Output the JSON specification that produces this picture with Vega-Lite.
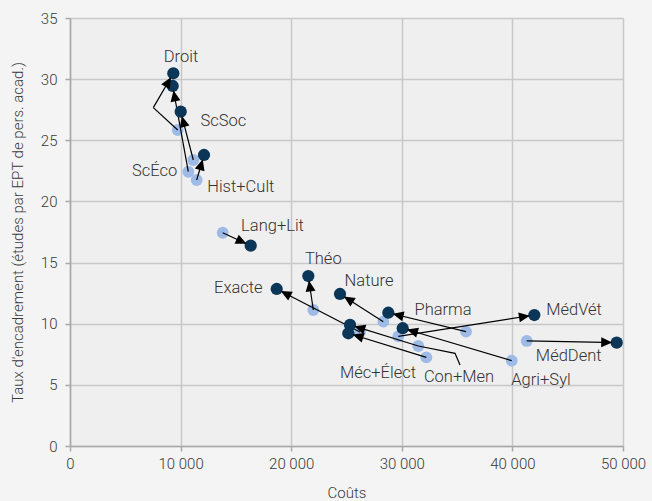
{
  "$schema": "https://vega.github.io/schema/vega-lite/v6.json",
  "width": 553,
  "height": 428,
  "autosize": {"type": "none"},
  "padding": {"left": 70, "top": 18, "right": 29, "bottom": 55},
  "background": "#f4f4f4",
  "config": {
    "view": {"fill": "#efefef", "stroke": null},
    "font": "Roboto",
    "axis": {
      "grid": true,
      "gridColor": "#c8c8c8",
      "gridWidth": 1.5,
      "domainColor": "#a8a8a8",
      "domainWidth": 1.5,
      "tickColor": "#a8a8a8",
      "tickWidth": 1.5,
      "tickSize": 5,
      "labelFont": "Roboto",
      "labelFontSize": 15,
      "labelFontWeight": 300,
      "labelColor": "#3a3a3a",
      "labelFlush": false,
      "labelOverlap": false,
      "titleFont": "Roboto",
      "titleFontSize": 15,
      "titleFontWeight": 300,
      "titleColor": "#3a3a3a"
    }
  },
  "datasets": {
    "programs": [
      {"p": "Droit", "c0": 9738, "t0": 25.84, "c1": 9341, "t1": 30.48, "bx": 7532, "by": 27.67, "lx": 10036, "ly": 31.85},
      {"p": "ScÉco", "c0": 10697, "t0": 22.43, "c1": 9286, "t1": 29.44, "lx": 7659, "ly": 22.45},
      {"p": "ScSoc", "c0": 11149, "t0": 23.39, "c1": 10010, "t1": 27.34, "lx": 13862, "ly": 26.58},
      {"p": "Hist+Cult", "c0": 11456, "t0": 21.75, "c1": 12116, "t1": 23.8, "lx": 15444, "ly": 21.18},
      {"p": "Lang+Lit", "c0": 13807, "t0": 17.44, "c1": 16339, "t1": 16.38, "lx": 18310, "ly": 17.99},
      {"p": "Théo", "c0": 22000, "t0": 11.12, "c1": 21548, "t1": 13.9, "lx": 22900, "ly": 15.29},
      {"p": "Exacte", "c0": 26222, "t0": 9.32, "c1": 18690, "t1": 12.84, "lx": 15218, "ly": 12.9},
      {"p": "Nature", "c0": 28329, "t0": 10.17, "c1": 24413, "t1": 12.43, "lx": 27036, "ly": 13.49},
      {"p": "Pharma", "c0": 35806, "t0": 9.35, "c1": 28781, "t1": 10.9, "lx": 33727, "ly": 11.12},
      {"p": "Agri+Syl", "c0": 39939, "t0": 6.98, "c1": 30083, "t1": 9.63, "lx": 42587, "ly": 5.42},
      {"p": "MédVét", "c0": 29685, "t0": 8.97, "c1": 41983, "t1": 10.71, "lx": 45573, "ly": 11.12},
      {"p": "Con+Men", "c0": 31494, "t0": 8.18, "c1": 25318, "t1": 9.9, "lx": 35174, "ly": 5.64},
      {"p": "Méc+Élect", "c0": 32217, "t0": 7.25, "c1": 25165, "t1": 9.22, "lx": 27849, "ly": 5.97},
      {"p": "MédDent", "c0": 41295, "t0": 8.59, "c1": 49432, "t1": 8.45, "lx": 45090, "ly": 7.36}
    ],
    "leader": [
      {"g": "Con+Men", "o": 1, "x": 31494, "y": 8.18},
      {"g": "Con+Men", "o": 2, "x": 34812, "y": 7.58},
      {"g": "Con+Men", "o": 3, "x": 35264, "y": 6.62}
    ]
  },
  "layer": [
    {
      "data": {"name": "programs"},
      "mark": {"type": "circle", "size": 140, "opacity": 1, "color": "#9dbbe6"},
      "encoding": {
        "x": {
          "field": "c0", "type": "quantitative",
          "scale": {"domain": [0, 50000], "nice": false, "zero": true},
          "axis": {
            "title": "Coûts",
            "values": [0, 10000, 20000, 30000, 40000, 50000],
            "labelExpr": "replace(format(datum.value, ','), ',', ' ')",
            "labelPadding": 5,
            "titlePadding": 14
          }
        },
        "y": {
          "field": "t0", "type": "quantitative",
          "scale": {"domain": [0, 35], "nice": false},
          "axis": {
            "title": "Taux d'encadrement (études par EPT de pers. acad.)",
            "values": [0, 5, 10, 15, 20, 25, 30, 35],
            "labelPadding": 8,
            "titlePadding": 15
          }
        }
      }
    },
    {
      "data": {"name": "leader"},
      "mark": {"type": "line", "color": "#000000", "strokeWidth": 1.2},
      "encoding": {
        "x": {"field": "x", "type": "quantitative"},
        "y": {"field": "y", "type": "quantitative"},
        "detail": {"field": "g"},
        "order": {"field": "o", "type": "quantitative"}
      }
    },
    {
      "data": {"name": "programs"},
      "transform": [{"filter": "isValid(datum.bx)"}],
      "mark": {"type": "rule", "color": "#000000", "strokeWidth": 1.2},
      "encoding": {
        "x": {"field": "c0", "type": "quantitative"},
        "y": {"field": "t0", "type": "quantitative"},
        "x2": {"field": "bx"},
        "y2": {"field": "by"}
      }
    },
    {
      "data": {"name": "programs"},
      "transform": [
        {"calculate": "isValid(datum.bx) ? datum.bx : datum.c0", "as": "sx"},
        {"calculate": "isValid(datum.by) ? datum.by : datum.t0", "as": "sy"}
      ],
      "mark": {"type": "rule", "color": "#000000", "strokeWidth": 1.2},
      "encoding": {
        "x": {"field": "sx", "type": "quantitative"},
        "y": {"field": "sy", "type": "quantitative"},
        "x2": {"field": "c1"},
        "y2": {"field": "t1"}
      }
    },
    {
      "data": {"name": "programs"},
      "mark": {"type": "circle", "size": 150, "opacity": 1, "color": "#0b3657"},
      "encoding": {
        "x": {"field": "c1", "type": "quantitative"},
        "y": {"field": "t1", "type": "quantitative"}
      }
    },
    {
      "data": {"name": "programs"},
      "transform": [
        {"calculate": "isValid(datum.bx) ? datum.bx : datum.c0", "as": "sx"},
        {"calculate": "isValid(datum.by) ? datum.by : datum.t0", "as": "sy"},
        {"calculate": "atan2((datum.c1 - datum.sx) * 0.01106, (datum.t1 - datum.sy) * 12.2286) * 180 / PI", "as": "ang"}
      ],
      "mark": {
        "type": "point",
        "shape": "M0,0.45 L0.5,1.55 L-0.5,1.55 Z",
        "size": 400,
        "filled": true,
        "opacity": 1,
        "color": "#000000",
        "strokeWidth": 0
      },
      "encoding": {
        "x": {"field": "c1", "type": "quantitative"},
        "y": {"field": "t1", "type": "quantitative"},
        "angle": {"field": "ang", "type": "quantitative", "scale": null}
      }
    },
    {
      "data": {"name": "programs"},
      "mark": {"type": "text", "font": "Roboto", "fontSize": 16.5, "fontWeight": 300, "color": "#333333", "align": "center", "baseline": "middle"},
      "encoding": {
        "x": {"field": "lx", "type": "quantitative"},
        "y": {"field": "ly", "type": "quantitative"},
        "text": {"field": "p"}
      }
    }
  ]
}
